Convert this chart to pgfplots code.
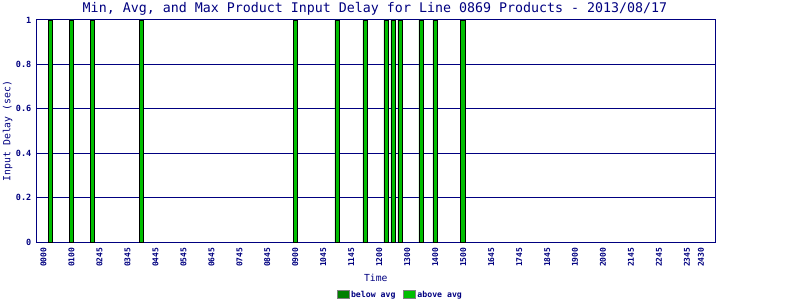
\documentclass[border=0pt]{standalone}
\usepackage{fontspec}
\setmainfont{DejaVu Sans Mono}
\usepackage{pgfplots}
\pgfplotsset{compat=1.18}
\definecolor{navy}{RGB}{0,0,128}
\definecolor{abovec}{RGB}{0,190,0}
\definecolor{belowc}{RGB}{0,128,0}
\begin{document}
\begin{tikzpicture}[x=1pt,y=1pt]
\useasboundingbox (0,0) rectangle (800,300);
\begin{axis}[
  at={(36.5pt,58pt)}, anchor=south west,
  scale only axis, width=678.5pt, height=222pt,
  xmin=0, xmax=97, ymin=0, ymax=1,
  axis line style={navy, line width=1pt},
  major tick length=0pt,
  xtick={1,5,9,13,17,21,25,29,33,37,41,45,49,53,57,61,65,69,73,77,81,85,89,93,95},
  xticklabels={0000,0100,0245,0345,0445,0545,0645,0745,0845,0900,1045,1145,1200,1300,1400,1500,1645,1745,1845,1900,2000,2145,2245,2345,2430},
  xticklabel style={rotate=90, anchor=east, inner xsep=5.5pt, inner ysep=0pt, font=\fontsize{8}{9}\selectfont\bfseries, text=navy},
  ytick={0,0.2,0.4,0.6,0.8,1},
  yticklabels={0,0.2,0.4,0.6,0.8,1},
  yticklabel style={anchor=east, inner xsep=5pt, inner ysep=0pt, font=\fontsize{8.5}{9}\selectfont\bfseries, text=navy},
  ymajorgrids, major grid style={navy, line width=1pt},
  every axis title shift=0pt,
  title={Min, Avg, and Max Product Input Delay for Line 0869 Products - 2013/08/17},
  title style={at={(0.4989,1)}, anchor=center, yshift=11pt, font=\fontsize{13.3}{14}\selectfont, text=navy},
  xlabel={Time},
  xlabel style={at={(0.5,-0.162)}, anchor=center, font=\fontsize{9.7}{10}\selectfont, text=navy},
  ylabel={Input Delay (sec)},
  ylabel style={at={(-0.0427,0.5)}, anchor=center, font=\fontsize{9.8}{10}\selectfont, text=navy},
  legend style={at={(0.5357,-0.2387)}, anchor=center, draw=none, fill=none,
    legend columns=2, font=\fontsize{8.2}{9}\selectfont\bfseries, text=navy,
    nodes={inner sep=1.5pt},
    /tikz/every even column/.append style={column sep=6pt}},
  legend image code/.code={\draw[#1, draw=gray, line width=1pt] (0pt,-4pt) rectangle (12pt,4pt);},
]
\addlegendimage{fill=belowc}
\addlegendentry{below avg}
\addlegendimage{fill=abovec}
\addlegendentry{above avg}
\addplot[ybar, bar width=4.6pt, fill=abovec, draw=black, line width=0.8pt, forget plot]
  coordinates {(2,1) (5,1) (8,1) (15,1) (37,1) (43,1) (47,1) (50,1) (51,1) (52,1) (55,1) (57,1) (61,1)};
\end{axis}
\end{tikzpicture}
\end{document}
